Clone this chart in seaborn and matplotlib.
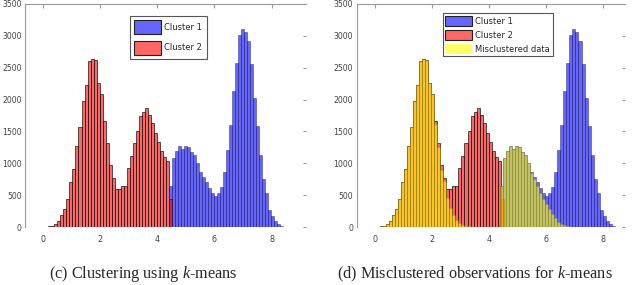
import numpy as np
import pandas as pd
import matplotlib
matplotlib.use("Agg")
import matplotlib.pyplot as plt
from matplotlib.colors import to_rgba
from matplotlib.patches import Patch
import seaborn as sns

# histogram counts (bin start / bin width in data units)
# cluster 2 (k-means, x < 4.5) -> red
red_start, red_width = 0.081, 0.1056
cluster2_counts = [5, 10, 20, 47, 99, 183, 282, 444, 700, 914,
                   1269, 1562, 1985, 2236, 2606, 2643, 2627, 2261, 2084, 1666,
                   1311, 972, 773, 590, 600, 645, 650, 920, 1112, 1311,
                   1499, 1739, 1807, 1860, 1760, 1640, 1480, 1340, 1190, 1105,
                   1030, 434]

# cluster 1 (x >= 4.5) -> blue
blue_start, blue_width = 4.396, 0.1053
cluster1_counts = [642, 1076, 1196, 1269, 1220, 1269, 1248, 1180, 1128, 1000,
                   860, 790, 710, 610, 530, 483, 535, 632, 867, 1207,
                   1598, 2136, 2575, 3009, 3103, 3061, 2919, 2565, 2032, 1583,
                   1128, 747, 527, 266, 172, 99, 47, 16, 5]

# misclustered observations: low mode on the red bins, middle mode on the blue bins
mis_low_counts = [5, 10, 20, 47, 99, 183, 282, 444, 700, 914,
                  1269, 1562, 1985, 2236, 2606, 2643, 2627, 2261, 2084, 1620,
                  1250, 900, 720, 450, 293, 188, 110, 58, 30, 15, 8, 4]
mis_mid_counts = [642, 1076, 1196, 1269, 1220, 1269, 1248, 1180, 1128, 1000,
                  851, 760, 650, 540, 440, 360, 285, 210, 140, 85, 50, 25, 12, 5]

labels = ["Cluster 1", "Cluster 2", "Misclustered data"]
colors = ["#0000ff", "#ff0000", "#ffff00"]
xticks = [0, 2, 4, 6, 8]
yticks = list(range(0, 3501, 500))
captions = ["(c) Clustering using $k$-means",
            "(d) Misclustered observations for $k$-means"]

sns.set_style("white")
plt.rcParams["font.family"] = ["DejaVu Sans"]
plt.rcParams["mathtext.fontset"] = "custom"
plt.rcParams["mathtext.rm"] = "Liberation Serif"
plt.rcParams["mathtext.it"] = "Liberation Serif:italic"


def hist_bars(ax, start, width, counts, color, edge, lw):
    edges = start + width * np.arange(len(counts) + 1)
    df = pd.DataFrame({"x": edges[:-1] + width / 2, "n": counts})
    sns.histplot(data=df, x="x", weights="n", bins=list(edges), ax=ax,
                 color=color, alpha=0.6, edgecolor=edge, linewidth=lw)


def style_axes(ax, xmax):
    ax.set_xlim(-0.63, xmax)
    ax.set_ylim(0, 3500)
    ax.set_xticks(xticks)
    ax.set_yticks(yticks)
    ax.set_xlabel("")
    ax.set_ylabel("")
    for side in ["right", "bottom"]:
        ax.spines[side].set_visible(False)
    for side in ["left", "top"]:
        ax.spines[side].set_color("#9a9a9a")
        ax.spines[side].set_linewidth(0.8)
    ax.tick_params(axis="x", bottom=False, top=True, direction="in", length=3,
                   color="#9a9a9a", labelsize=5.8, labelcolor="#444444", pad=6)
    ax.tick_params(axis="y", left=False, right=True, direction="in", length=2,
                   color="#9a9a9a", labelsize=5.6, labelcolor="#444444", pad=2.5)


fig = plt.figure(figsize=(6.4, 2.85), dpi=100)
ax1 = fig.add_axes([0.039, 0.2035, 0.439, 0.7825])
ax2 = fig.add_axes([0.5573, 0.2035, 0.4192, 0.7825])

blue_edge = (0.1, 0.1, 0.3, 0.6)
red_edge = (0.1, 0.1, 0.1, 0.85)

# (c) k-means clustering
hist_bars(ax1, blue_start, blue_width, cluster1_counts, colors[0], blue_edge, 0.5)
hist_bars(ax1, red_start, red_width, cluster2_counts, colors[1], red_edge, 0.6)
style_axes(ax1, 9.2)

# (d) misclustered observations
hist_bars(ax2, blue_start, blue_width, cluster1_counts, colors[0], blue_edge, 0.5)
hist_bars(ax2, red_start, red_width, cluster2_counts, colors[1], red_edge, 0.6)
hist_bars(ax2, red_start, red_width, mis_low_counts, colors[2], (0.5, 0.4, 0.0, 0.25), 0.4)
hist_bars(ax2, blue_start, blue_width, mis_mid_counts, colors[2], (0.4, 0.4, 0.1, 0.25), 0.4)
style_axes(ax2, 8.76)

handles = [Patch(facecolor=to_rgba(c, 0.6), edgecolor="#222222" if c != "#ffff00" else "none",
                 linewidth=0.8, label=l) for c, l in zip(colors, labels)]

leg1 = ax1.legend(handles=handles[:2], loc="upper left", bbox_to_anchor=(0.375, 0.946),
                  borderaxespad=0, fontsize=6, handlelength=3.2, handleheight=2.2,
                  labelspacing=0.8, fancybox=False, edgecolor="#555555", framealpha=1,
                  borderpad=0.5, handletextpad=0.4)
leg1.get_frame().set_linewidth(0.8)

leg2 = ax2.legend(handles=handles, loc="upper left", bbox_to_anchor=(0.321, 0.958),
                  borderaxespad=0, fontsize=6, handlelength=3.2, handleheight=1.5,
                  labelspacing=0.45, fancybox=False, edgecolor="#555555", framealpha=1,
                  borderpad=0.3, handletextpad=0.4)
leg2.get_frame().set_linewidth(0.8)

fig.text(143 / 640, 1 - 274 / 285, captions[0], ha="center", va="center",
         fontsize=11.7, family="Liberation Serif")
fig.text(475 / 640, 1 - 274 / 285, captions[1], ha="center", va="center",
         fontsize=11.7, family="Liberation Serif")

fig.savefig("out.png", dpi=100, facecolor="white")
